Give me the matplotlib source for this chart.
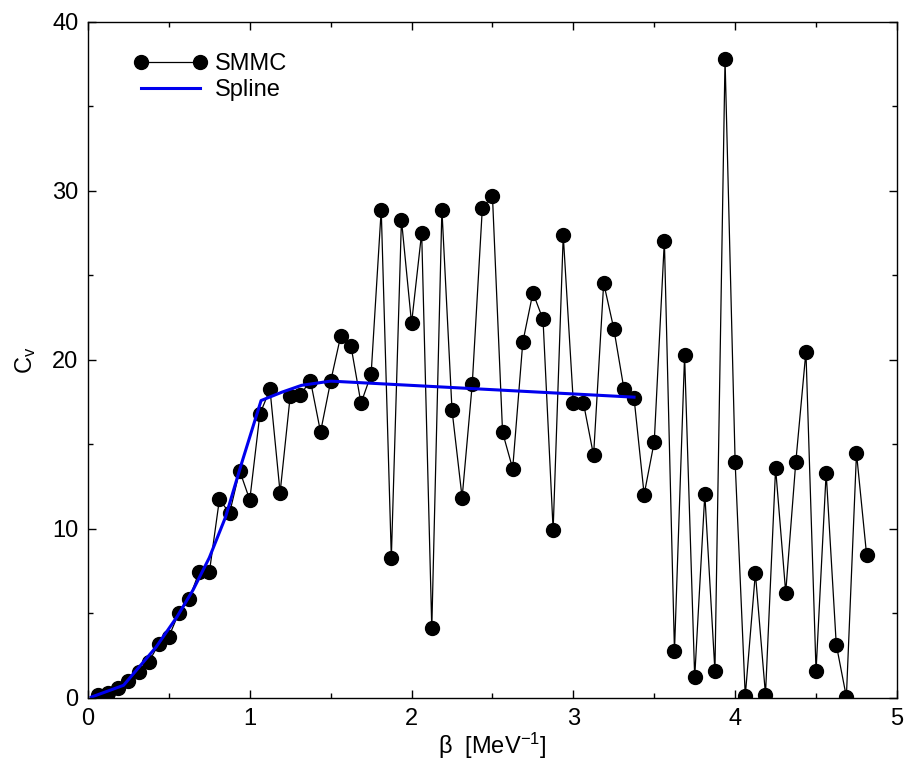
import matplotlib
matplotlib.use('Agg')
import matplotlib.pyplot as plt
from matplotlib.ticker import MultipleLocator

# SMMC heat capacity, beta = 0.0625 * k, k = 1..77
beta_step = 0.0625
cv_smmc = [0.18, 0.31, 0.57, 1.03, 1.56, 2.11, 3.2, 3.63, 5.05, 5.84,
           7.47, 7.43, 11.76, 10.93, 13.45, 11.72, 16.8, 18.26, 12.15, 17.87,
           17.93, 18.78, 15.74, 18.74, 21.44, 20.85, 17.44, 19.15, 28.9, 8.3,
           28.3, 22.17, 27.53, 4.12, 28.9, 17.04, 11.85, 18.56, 29.0, 29.7,
           15.72, 13.57, 21.05, 23.98, 22.4, 9.94, 27.38, 17.45, 17.45, 14.35,
           24.55, 21.85, 18.3, 17.76, 12.04, 15.16, 27.06, 2.76, 20.27, 1.22,
           12.06, 1.59, 37.8, 13.94, 0.12, 7.39, 0.2, 13.6, 6.24, 13.98,
           20.5, 1.59, 13.33, 3.16, 0.06, 14.49, 8.47]
beta_smmc = [beta_step * (k + 1) for k in range(len(cv_smmc))]

spline_beta = [0.02, 0.22, 0.42, 0.55, 0.65, 0.75, 0.85, 0.95, 1.07, 1.20, 1.32, 1.50, 3.375]
spline_cv = [0.05, 0.75, 3.0, 4.8, 6.4, 8.3, 10.7, 13.9, 17.6, 18.1, 18.5, 18.75, 17.8]

plt.rcParams['font.family'] = ['Liberation Sans', 'DejaVu Sans']
plt.rcParams['mathtext.fontset'] = 'custom'
plt.rcParams['mathtext.rm'] = 'Liberation Sans'
plt.rcParams['mathtext.it'] = 'Liberation Sans'

fig = plt.figure(figsize=(9.06, 7.66), dpi=100)
ax = fig.add_axes([0.0971, 0.0888, 0.8929, 0.8825])

ax.plot(beta_smmc, cv_smmc, color='black', lw=0.9, marker='o', ms=10,
        mfc='black', mec='black', label='SMMC')
ax.plot(spline_beta, spline_cv, color='#0000ee', lw=2.2, label='Spline')

ax.set_xlim(0, 5)
ax.set_ylim(0, 40)
ax.xaxis.set_major_locator(MultipleLocator(1))
ax.xaxis.set_minor_locator(MultipleLocator(0.5))
ax.yaxis.set_major_locator(MultipleLocator(10))
ax.yaxis.set_minor_locator(MultipleLocator(5))
ax.tick_params(which='both', direction='in', top=True, right=True, labelsize=17, width=1)
ax.tick_params(which='major', length=6, pad=7)
ax.tick_params(which='minor', length=3.5)
for s in ax.spines.values():
    s.set_linewidth(1.0)

ax.set_xlabel(r'$\beta$  [MeV$^{-1}$]', fontsize=17, labelpad=1)
ax.set_ylabel(r'C$_\mathregular{v}$', fontsize=17, labelpad=10)

ax.legend(loc='upper left', frameon=False, fontsize=17, numpoints=2,
          handlelength=3.1, bbox_to_anchor=(0.03, 0.985), handletextpad=0.35,
          labelspacing=0.15)

fig.savefig('out.png', dpi=100)
